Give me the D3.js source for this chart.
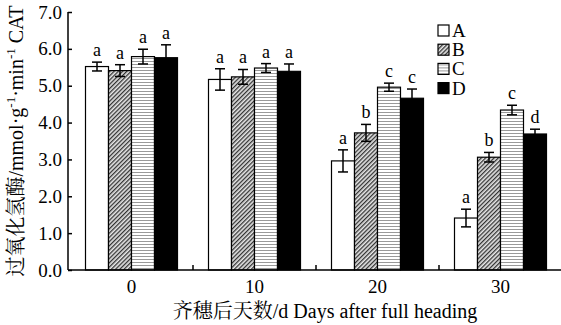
<!DOCTYPE html>
<html><head><meta charset="utf-8">
<script src="https://cdn.jsdelivr.net/npm/d3@7"></script>
<style>
body{margin:0;background:#fff;}
svg text{font-family:"Liberation Serif","DejaVu Serif",serif !important;}
svg text.zh{font-family:"Liberation Serif","Noto Serif CJK SC","Noto Sans CJK SC",serif !important;}
</style></head>
<body><svg id="chart" width="561" height="325"></svg>
<script>
const days = ["0", "10", "20", "30"];
const series = ["A", "B", "C", "D"];
// mean CAT per series, one value per day
const valA = [5.52, 5.17, 2.96, 1.41];
const valB = [5.41, 5.24, 3.72, 3.06];
const valC = [5.79, 5.48, 4.96, 4.34];
const valD = [5.76, 5.39, 4.66, 3.69];
const errA = [0.12, 0.29, 0.30, 0.24];
const errB = [0.16, 0.20, 0.23, 0.13];
const errC = [0.20, 0.12, 0.11, 0.13];
const errD = [0.35, 0.20, 0.25, 0.13];
const sigA = ["a", "a", "a", "a"];
const sigB = ["a", "a", "b", "b"];
const sigC = ["a", "a", "c", "c"];
const sigD = ["a", "a", "c", "d"];
const yTicks = [0, 1, 2, 3, 4, 5, 6, 7];

const vals = [valA, valB, valC, valD], errs = [errA, errB, errC, errD], sigs = [sigA, sigB, sigC, sigD];
const fills = ["#fff", "url(#hatchB)", "url(#hatchC)", "#000"];

const svg = d3.select("#chart");
const defs = svg.append("defs");
let pb = defs.append("pattern").attr("id", "hatchB").attr("patternUnits", "userSpaceOnUse")
    .attr("width", 3).attr("height", 3).attr("patternTransform", "rotate(45)");
pb.append("rect").attr("width", 3).attr("height", 3).attr("fill", "#e6e6e6");
pb.append("rect").attr("width", 1.3).attr("height", 3).attr("fill", "#333");
let pc = defs.append("pattern").attr("id", "hatchC").attr("patternUnits", "userSpaceOnUse")
    .attr("width", 4).attr("height", 3);
pc.append("rect").attr("width", 4).attr("height", 3).attr("fill", "#fff");
pc.append("rect").attr("y", 1).attr("width", 4).attr("height", 1).attr("fill", "#999");

const x0 = d3.scaleBand().domain(days).range([70, 562]).paddingInner(0).paddingOuter(0);
const x1 = d3.scaleBand().domain(series).range([15.5, x0.bandwidth() - 15.5]).padding(0);
const y = d3.scaleLinear().domain([0, 7]).range([270, 12]);

// bars
days.forEach((d, i) => {
    const g = svg.append("g").attr("transform", `translate(${x0(d)},0)`);
    series.forEach((s, j) => {
        const v = vals[j][i], e = errs[j][i];
        const bx = x1(s), bw = x1.bandwidth(), cx = bx + bw / 2;
        g.append("rect").attr("x", bx).attr("y", y(v)).attr("width", bw).attr("height", y(0) - y(v))
            .attr("fill", fills[j]).attr("stroke", "#000").attr("stroke-width", 1.2);
        g.append("line").attr("x1", cx).attr("x2", cx).attr("y1", y(v - e)).attr("y2", y(v + e))
            .attr("stroke", "#000").attr("stroke-width", 1.5);
        [v - e, v + e].forEach(t => g.append("line").attr("x1", cx - 5).attr("x2", cx + 5)
            .attr("y1", y(t)).attr("y2", y(t)).attr("stroke", "#000").attr("stroke-width", 1.5));
        g.append("text").attr("x", cx).attr("y", y(v + e) - 6).attr("text-anchor", "middle")
            .attr("font-size", 18).text(sigs[j][i]);
    });
});

// y axis
const yAxis = d3.axisLeft(y).tickValues(yTicks).tickSize(-4).tickPadding(6).tickFormat(d3.format(".1f"));
const gy = svg.append("g").attr("transform", "translate(68,0)").call(yAxis);
gy.select(".domain").attr("stroke-width", 1.5).attr("d", "M0,12V270");
gy.selectAll(".tick line").attr("stroke-width", 1.5);
gy.selectAll(".tick text").attr("font-size", 19).attr("fill", "#000");

// x axis
const gx = svg.append("g").attr("transform", "translate(0,270)")
    .call(d3.axisBottom(x0).tickSize(0).tickPadding(10));
gx.select(".domain").attr("stroke-width", 1.5).attr("d", "M68,0H561");
gx.selectAll(".tick text").attr("font-size", 19).attr("fill", "#000");
days.slice(1).forEach(d => {
    gx.append("line").attr("x1", x0(d)).attr("x2", x0(d)).attr("y1", 0).attr("y2", -5)
        .attr("stroke", "#000").attr("stroke-width", 1.5);
});

// axis titles
svg.append("text").attr("class", "zh").attr("x", 325).attr("y", 318).attr("text-anchor", "middle").attr("font-size", 20)
    .text("齐穗后天数/d Days after full heading");
const yt = svg.append("text").attr("class", "zh").attr("transform", "translate(23,141) rotate(-90)").attr("text-anchor", "middle")
    .attr("font-size", 20);
yt.append("tspan").text("过氧化氢酶/mmol·g");
yt.append("tspan").attr("dy", -8).attr("font-size", 13).text("-1");
yt.append("tspan").attr("dy", 8).text("·min");
yt.append("tspan").attr("dy", -8).attr("font-size", 13).text("-1");
yt.append("tspan").attr("dy", 8).text(" CAT");

// legend
const lg = svg.append("g").attr("transform", "translate(438,25)");
series.forEach((s, j) => {
    const row = lg.append("g").attr("transform", `translate(0,${j * 19.2})`);
    row.append("rect").attr("width", 11).attr("height", 11).attr("fill", fills[j])
        .attr("stroke", "#000").attr("stroke-width", 1.2);
    row.append("text").attr("x", 14).attr("y", 12).attr("font-size", 19).text(s);
});
</script></body></html>
